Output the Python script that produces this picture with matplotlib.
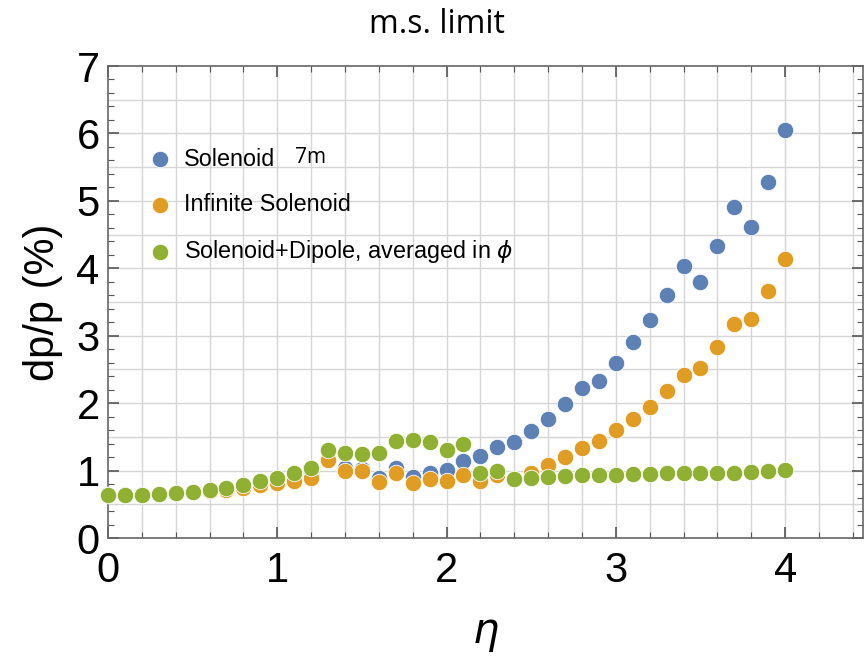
import matplotlib
matplotlib.use("Agg")
import matplotlib.pyplot as plt
from matplotlib.ticker import MultipleLocator
import numpy as np

eta = [round(0.1 * i, 1) for i in range(41)]

solenoid_7m = [0.64, 0.64, 0.64, 0.65, 0.67, 0.68, 0.70, 0.73, 0.77, 0.82, 0.86,
               0.90, 0.98, 1.17, 1.04, 1.03, 0.89, 1.04, 0.90, 0.96, 1.01,
               1.14, 1.21, 1.35, 1.42, 1.59, 1.77, 1.99, 2.22, 2.33, 2.59,
               2.90, 3.23, 3.61, 4.03, 3.80, 4.33, 4.91, 4.61, 5.28, 6.05]

infinite_solenoid = [0.64, 0.64, 0.64, 0.65, 0.67, 0.68, 0.70, 0.71, 0.74, 0.78, 0.82,
                     0.84, 0.89, 1.16, 0.99, 0.99, 0.83, 0.96, 0.82, 0.87, 0.84,
                     0.93, 0.84, 0.93, 0.88, 0.97, 1.08, 1.20, 1.34, 1.44, 1.60,
                     1.77, 1.95, 2.18, 2.42, 2.52, 2.83, 3.17, 3.25, 3.67, 4.14]

solenoid_dipole = [0.64, 0.64, 0.64, 0.65, 0.67, 0.68, 0.71, 0.74, 0.79, 0.84, 0.89,
                   0.96, 1.04, 1.31, 1.26, 1.25, 1.26, 1.44, 1.45, 1.43, 1.31,
                   1.40, 0.96, 1.00, 0.87, 0.89, 0.90, 0.915, 0.93, 0.94, 0.94,
                   0.95, 0.955, 0.96, 0.965, 0.965, 0.965, 0.97, 0.98, 0.99, 1.005]

labels = ["Solenoid", "Infinite Solenoid", r"Solenoid+Dipole, averaged in $\phi$"]
colors = ["#5E81B5", "#E19C24", "#8FB032"]

plt.rcParams['font.family'] = ['Liberation Sans', 'DejaVu Sans']
plt.rcParams['mathtext.fontset'] = 'dejavusans'

fig = plt.figure(figsize=(8.66, 6.56), dpi=100)
ax = fig.add_axes([108/866, 1-538/656, (863-108)/866, (538-66)/656])

for ys, c, lab in zip([solenoid_7m, infinite_solenoid, solenoid_dipole], colors, labels):
    ax.scatter(eta, ys, s=140, color=c, edgecolors='white', linewidths=0.6,
               label=lab, zorder=3, clip_on=False)

ax.set_xlim(0, 4.46)
ax.set_ylim(0, 7)
ax.xaxis.set_major_locator(MultipleLocator(1))
ax.xaxis.set_minor_locator(MultipleLocator(0.2))
ax.yaxis.set_major_locator(MultipleLocator(1))
ax.yaxis.set_minor_locator(MultipleLocator(0.2))

# grid: x every 0.2, y every 0.5
for xv in np.arange(0.2, 4.46, 0.2):
    ax.axvline(xv, color='#d6d6d6', lw=1.0, zorder=0)
for yv in np.arange(0.5, 7, 0.5):
    ax.axhline(yv, color='#d6d6d6', lw=1.0, zorder=0)

ax.tick_params(which='both', direction='in', top=True, right=True, color='#555555')
ax.tick_params(which='major', length=8, width=1.2, labelsize=30, pad=6)
ax.tick_params(axis='x', which='major', pad=9)
ax.tick_params(which='minor', length=4, width=0.8)
for sp in ax.spines.values():
    sp.set_color('#666666')
    sp.set_linewidth(1.2)

ax.set_ylabel("dp/p (%)", fontsize=30, labelpad=10)
ax.set_xlabel(r"$\eta$", fontsize=30, labelpad=17)

leg = ax.legend(loc='upper left', bbox_to_anchor=(0.025, 0.847), frameon=False,
                fontsize=16.8, labelspacing=0.95, handletextpad=0.05, borderaxespad=0,
                scatterpoints=1)

fig.text(0.505, 0.962, "m.s. limit", ha='center', va='center', fontsize=23,
         family=['Open Sans', 'DejaVu Sans'])
fig.text(0.341, 0.760, "7m", ha='left', va='center', fontsize=15,
         family=['Open Sans', 'DejaVu Sans'])

fig.savefig("out.png", dpi=100)
